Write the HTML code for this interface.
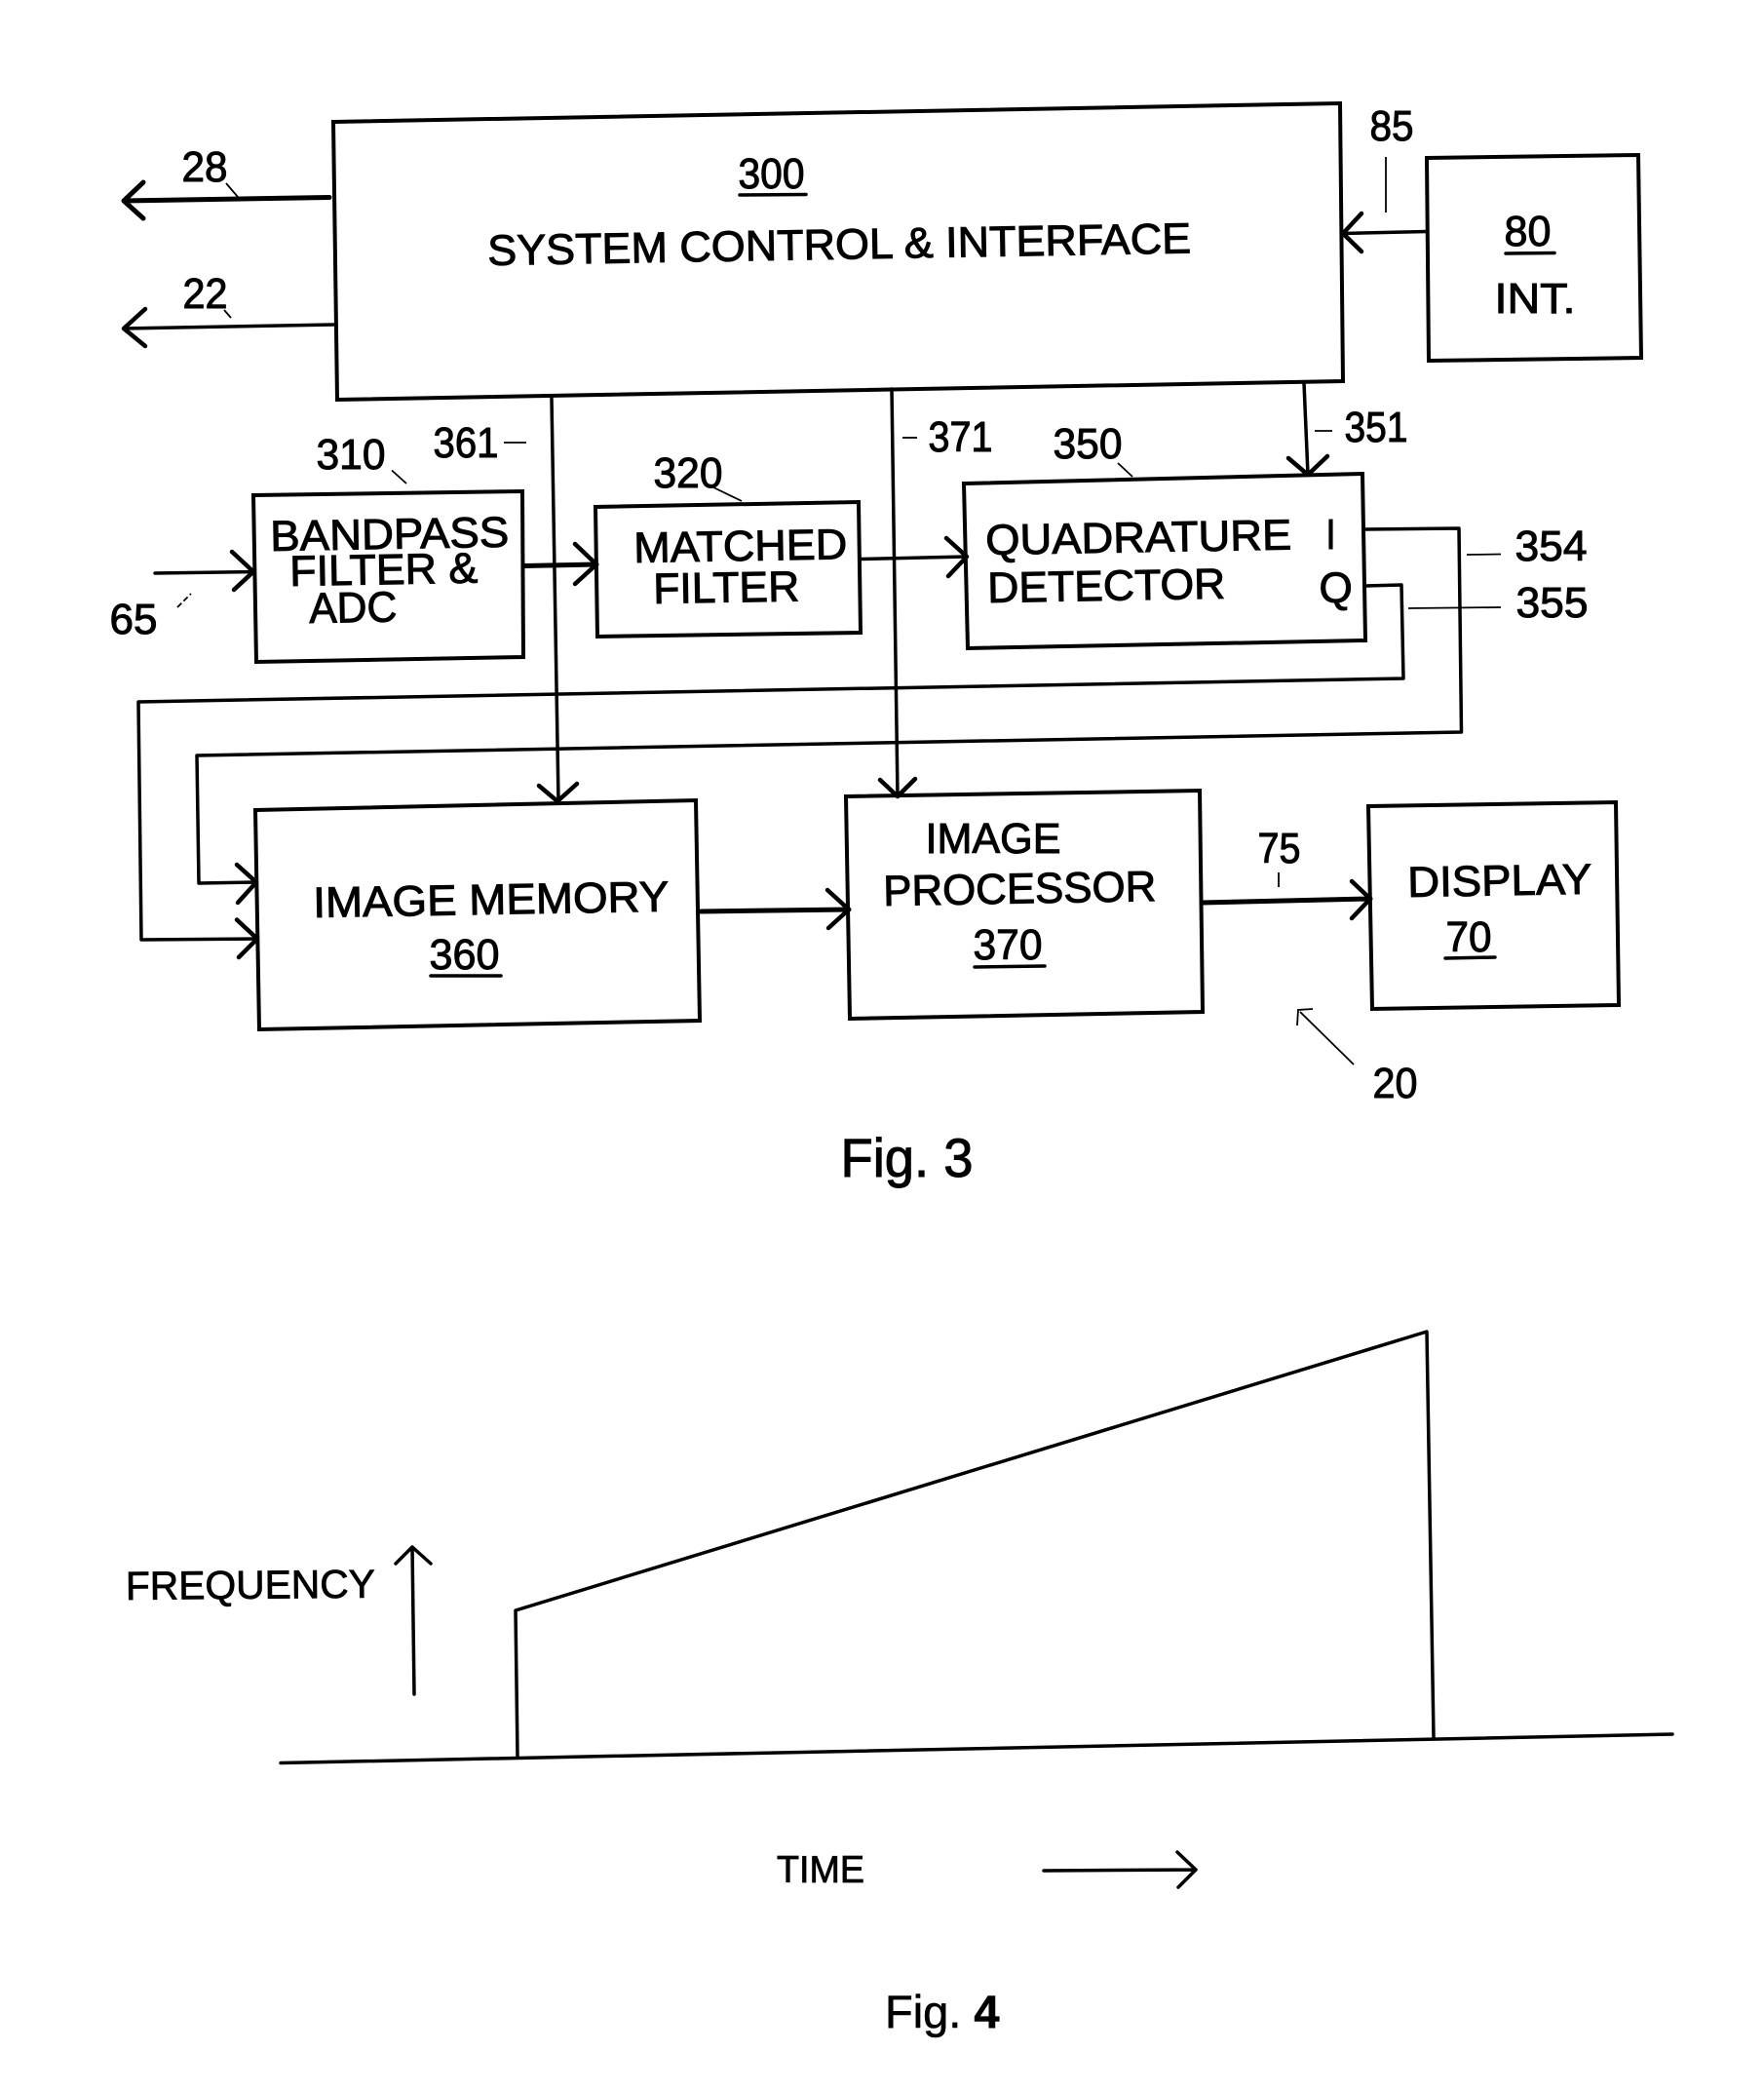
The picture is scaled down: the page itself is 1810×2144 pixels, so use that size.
<!DOCTYPE html>
<html>
<head>
<meta charset="utf-8">
<style>
html,body{margin:0;padding:0;background:#fff}
svg{display:block}
text{font-family:"Liberation Sans",Arial,sans-serif;fill:#000;stroke:#000;stroke-width:1;font-size:44px}
.l{fill:none;stroke:#000;stroke-width:4;stroke-linejoin:miter;stroke-linecap:round}
.m{fill:none;stroke:#000;stroke-width:3.5;stroke-linecap:round;stroke-linejoin:round}
.h{fill:none;stroke:#000;stroke-width:5;stroke-linecap:round;stroke-linejoin:round}
.a{fill:none;stroke:#000;stroke-width:4.5;stroke-linecap:round;stroke-linejoin:round}
.t{fill:none;stroke:#000;stroke-width:1.8;stroke-linecap:butt}
</style>
</head>
<body>
<svg xmlns="http://www.w3.org/2000/svg" width="1810" height="2144" viewBox="0 0 1810 2144">
<rect width="1810" height="2144" fill="#fff"/>

<!-- Boxes -->
<path class="l" d="M342 125L1375 106L1378 391L346 410Z"/>
<path class="l" d="M1464 162L1681 159L1684 367L1466 370Z"/>
<path class="l" d="M260 508L536 504L537 674L263 679Z"/>
<path class="l" d="M611 520L881 515L883 649L613 653Z"/>
<path class="l" d="M989 496L1398 486L1401 657L993 665Z"/>
<path class="l" d="M262 831L714 821L718 1047L266 1056Z"/>
<path class="l" d="M868 817L1231 811L1234 1038L872 1045Z"/>
<path class="l" d="M1404 827L1658 823L1661 1031L1408 1035Z"/>

<!-- Left arrows -->
<path class="h" d="M338 202.5L127 206M147 187L127 206L147 224"/>
<path class="m" d="M343 333L127 337"/><path class="a" d="M149 317L127 337L149 355"/>
<!-- 85 arrow -->
<path class="m" d="M1464 237.5L1378 239.5"/><path class="a" d="M1397 219L1378 239.5L1397 258"/>
<!-- 351 -->
<path class="m" d="M1338 393L1342 487"/><path class="a" d="M1322 470L1342 487L1362 468"/>
<!-- 65 -->
<path class="m" d="M159 588L260 586.5"/><path class="a" d="M238 566L260 586.5L240 605"/>
<!-- 310 to 320 -->
<path class="h" d="M538 580.5L612 579"/><path class="a" d="M590 558L612 579L590 599"/>
<!-- 320 to 350 -->
<path class="m" d="M883 573.5L992 571"/><path class="a" d="M971 552L992 571L973 591"/>
<!-- 361 -->
<path class="m" d="M566 409L573 822"/><path class="a" d="M553 806L572 822L592 804"/>
<!-- 371 -->
<path class="m" d="M915 399L921 817"/><path class="a" d="M903 800L921 817L939 799"/>
<!-- I line -->
<path class="m" d="M1401 543L1497 542L1499.5 751L202 775L204 906L263 905"/><path class="a" d="M243 887L263 905L244 926"/>
<!-- Q line -->
<path class="m" d="M1401 601L1438 600L1440 696L142 720L145 964L264 963"/><path class="a" d="M243 943.5L264 963L245 982"/>
<!-- 360 to 370 -->
<path class="h" d="M719 935L871 933"/><path class="a" d="M849 913L871 933L850 952"/>
<!-- 370 to 70 -->
<path class="h" d="M1233 926L1406 922"/><path class="a" d="M1387 904L1406 922L1387 942"/>
<!-- 20 -->
<path class="t" d="M1389 1092L1334 1038M1347 1035L1332 1036L1331 1052"/>

<!-- leaders -->
<path class="t" d="M232 188L244 202"/>
<path class="t" d="M230 318L237 326"/>
<path class="t" d="M402 482.5L417 496"/>
<path class="t" d="M517 454L540 454"/>
<path class="t" d="M732 500L761 514"/>
<path class="t" d="M182 623L196 609" stroke-dasharray="6 3"/>
<path class="t" d="M1422 161L1422 218"/>
<path class="t" d="M1349 442L1367 442"/>
<path class="t" d="M926 449L941 449"/>
<path class="t" d="M1147 475L1162 489"/>
<path class="t" d="M1505 569L1540 568.5"/>
<path class="t" d="M1445 624L1540 623"/>
<path class="t" d="M1312 895L1312 910"/>

<!-- underlines -->
<path class="m" d="M759 200L827 199.5"/>
<path class="m" d="M1545 260L1595 259.5"/>
<path class="m" d="M442 1001L514 1001"/>
<path class="m" d="M1000 992L1072 991"/>
<path class="m" d="M1483 983L1534 982"/>

<!-- Text: Fig 3 -->
<g transform="translate(-1.5 -1)">
<text x="188" y="187" textLength="47" lengthAdjust="spacingAndGlyphs">28</text>
<text x="189" y="317" textLength="46" lengthAdjust="spacingAndGlyphs">22</text>
<text x="759" y="194" textLength="68" lengthAdjust="spacingAndGlyphs">300</text>
<text x="502" y="273" textLength="722" lengthAdjust="spacingAndGlyphs" transform="rotate(-1 502 273)">SYSTEM CONTROL &amp; INTERFACE</text>
<text x="1407" y="145" textLength="45" lengthAdjust="spacingAndGlyphs">85</text>
<text x="1545" y="253" textLength="48" lengthAdjust="spacingAndGlyphs">80</text>
<text x="1535" y="322" textLength="83" lengthAdjust="spacingAndGlyphs">INT.</text>
<text x="326" y="482" textLength="71" lengthAdjust="spacingAndGlyphs">310</text>
<text x="446" y="470" textLength="67" lengthAdjust="spacingAndGlyphs">361</text>
<text x="672" y="501" textLength="71" lengthAdjust="spacingAndGlyphs">320</text>
<text x="954" y="464" textLength="66" lengthAdjust="spacingAndGlyphs">371</text>
<text x="1082" y="471" textLength="71" lengthAdjust="spacingAndGlyphs">350</text>
<text x="1381" y="454" textLength="65" lengthAdjust="spacingAndGlyphs">351</text>
<text x="114" y="651" textLength="49" lengthAdjust="spacingAndGlyphs">65</text>
<text x="279" y="566" textLength="245" lengthAdjust="spacingAndGlyphs" transform="rotate(-1 279 566)">BANDPASS</text>
<text x="299" y="602" textLength="193" lengthAdjust="spacingAndGlyphs" transform="rotate(-1 299 602)">FILTER &amp;</text>
<text x="319" y="640" textLength="90" lengthAdjust="spacingAndGlyphs" transform="rotate(-1 319 640)">ADC</text>
<text x="652" y="578" textLength="219" lengthAdjust="spacingAndGlyphs" transform="rotate(-1 652 578)">MATCHED</text>
<text x="672" y="620" textLength="150" lengthAdjust="spacingAndGlyphs" transform="rotate(-1 672 620)">FILTER</text>
<text x="1013" y="570" textLength="314" lengthAdjust="spacingAndGlyphs" transform="rotate(-1 1013 570)">QUADRATURE</text>
<text x="1015" y="619" textLength="244" lengthAdjust="spacingAndGlyphs" transform="rotate(-1 1015 619)">DETECTOR</text>
<text x="1362" y="564" textLength="10" lengthAdjust="spacingAndGlyphs">I</text>
<text x="1355" y="619">Q</text>
<text x="1556" y="576" textLength="74" lengthAdjust="spacingAndGlyphs">354</text>
<text x="1557" y="634" textLength="74" lengthAdjust="spacingAndGlyphs">355</text>
<text x="323" y="942" textLength="365" lengthAdjust="spacingAndGlyphs" transform="rotate(-1 323 942)">IMAGE MEMORY</text>
<text x="442" y="995" textLength="72" lengthAdjust="spacingAndGlyphs">360</text>
<text x="951" y="876" textLength="139" lengthAdjust="spacingAndGlyphs">IMAGE</text>
<text x="908" y="930" textLength="280" lengthAdjust="spacingAndGlyphs" transform="rotate(-1 908 930)">PROCESSOR</text>
<text x="1000" y="985" textLength="71" lengthAdjust="spacingAndGlyphs">370</text>
<text x="1292" y="886" textLength="44" lengthAdjust="spacingAndGlyphs">75</text>
<text x="1446" y="921" textLength="189" lengthAdjust="spacingAndGlyphs" transform="rotate(-1 1446 921)">DISPLAY</text>
<text x="1485" y="977" textLength="47" lengthAdjust="spacingAndGlyphs">70</text>
<text x="1410" y="1127" textLength="46" lengthAdjust="spacingAndGlyphs">20</text>
<text x="864" y="1208" style="font-size:56px" textLength="136" lengthAdjust="spacingAndGlyphs">Fig. 3</text>
</g>

<!-- Fig 4 -->
<path class="m" d="M425 1738L423 1587M406 1604L423 1587L442 1604"/>
<path class="m" d="M531 1802L529 1652L1464 1366L1471 1782"/>
<path class="m" d="M288 1808.5L1716 1779"/>
<path class="m" d="M1071 1919L1227 1918M1208 1900L1227 1918L1209 1936"/>
<text x="129" y="1641" style="font-size:41px;stroke-width:.8" textLength="256" lengthAdjust="spacingAndGlyphs" transform="rotate(-.5 130 1642)">FREQUENCY</text>
<text x="797" y="1931" style="font-size:39px;stroke-width:.8" textLength="90" lengthAdjust="spacingAndGlyphs">TIME</text>
<text x="908" y="2080" style="font-size:47px;stroke-width:.6">Fig. <tspan font-weight="bold">4</tspan></text>
</svg>
</body>
</html>
